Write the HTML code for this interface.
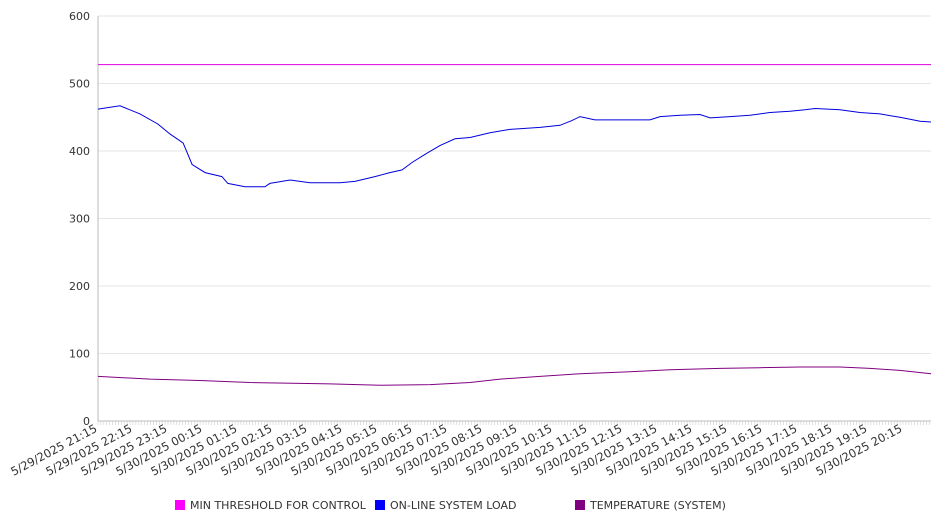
<!DOCTYPE html>
<html><head><meta charset="utf-8"><style>
body{margin:0;background:#fff;}
svg{font-family:"DejaVu Sans","Liberation Sans",sans-serif;}
</style></head><body>
<svg id="c" width="946" height="526"></svg>
<script>
const yTicks=[0,100,200,300,400,500,600];
const xLabels=["5/29/2025 21:15","5/29/2025 22:15","5/29/2025 23:15","5/30/2025 00:15","5/30/2025 01:15","5/30/2025 02:15","5/30/2025 03:15","5/30/2025 04:15","5/30/2025 05:15","5/30/2025 06:15","5/30/2025 07:15","5/30/2025 08:15","5/30/2025 09:15","5/30/2025 10:15","5/30/2025 11:15","5/30/2025 12:15","5/30/2025 13:15","5/30/2025 14:15","5/30/2025 15:15","5/30/2025 16:15","5/30/2025 17:15","5/30/2025 18:15","5/30/2025 19:15","5/30/2025 20:15"];
const thresholdHours=[0,23.8];
const thresholdValues=[528,528];
const loadHours=[0,0.63,1.2,1.71,2.06,2.43,2.69,3.06,3.54,3.71,4.2,4.77,4.91,5.49,6.06,6.91,7.34,7.91,8.34,8.69,8.97,9.34,9.77,10.2,10.63,11.2,11.77,12.63,13.2,13.54,13.77,14.2,14.91,15.77,16.06,16.63,17.2,17.49,18.06,18.63,19.2,19.77,20.2,20.49,21.2,21.77,22.34,22.91,23.49,23.8];
const loadValues=[462,467,455,440,425,412,380,368,362,352,347,347,352,357,353,353,355,362,368,372,383,395,408,418,420,427,432,435,438,445,451,446,446,446,451,453,454,449,451,453,457,459,461,463,461,457,455,450,444,443];
const tempHours=[0,1.49,2.91,4.34,6.63,8.06,9.49,10.63,11.49,12.63,13.77,15.2,16.34,17.77,18.91,20.06,21.2,22.06,22.91,23.8];
const tempValues=[66,62,60,57,55,53,54,57,62,66,70,73,76,78,79,80,80,78,75,70];
const X0=98,X1=931,Y0=421,PX_H=35,PX_V=0.675;
const xs=h=>X0+h*PX_H, ys=v=>Y0-v*PX_V;
const svg=document.getElementById('c');const NS="http://www.w3.org/2000/svg";
function mk(t,a,p){const e=document.createElementNS(NS,t);for(const k in a)e.setAttribute(k,a[k]);(p||svg).appendChild(e);return e;}
yTicks.forEach(v=>{
 const g=mk('line',{x1:X0,x2:X1,y1:ys(v),y2:ys(v),stroke:v?'#e6e6e6':'#bbb','stroke-width':1});
 
 const t=mk('text',{x:90,y:ys(v)+4,'text-anchor':'end','font-size':11,fill:'#333'});t.textContent=v;
 
});
const ax=mk('line',{x1:X0,x2:X0,y1:16,y2:Y0,stroke:'#bbb'});

for(let x=X0;x<=X1;x+=PX_H/12){const tk=mk('line',{x1:x,x2:x,y1:Y0,y2:Y0+4,stroke:'#ccc','stroke-width':0.6});
 }
xLabels.forEach((l,i)=>{const x=xs(i);
 const t=mk('text',{x:x,y:431,'text-anchor':'end','font-size':11.5,fill:'#333',transform:`rotate(-28 ${x} 431)`});t.textContent=l;
 });
function line(hs,vs,c,n){const d=hs.map((h,i)=>(i?'L':'M')+xs(h).toFixed(1)+' '+ys(vs[i]).toFixed(1)).join(' ');
 const p=mk('path',{d:d,fill:'none',stroke:c,'stroke-width':1});
 }
line(thresholdHours,thresholdValues,'#e000e0','threshold-line');
line(loadHours,loadValues,'#0000dd','load-line');
line(tempHours,tempValues,'#800080','temperature-line');
[['MIN THRESHOLD FOR CONTROL','#ff00ff',175],['ON-LINE SYSTEM LOAD','#0000ff',375],['TEMPERATURE (SYSTEM)','#800080',575]].forEach(([l,c,x])=>{
 const g=mk('g',{});
 mk('rect',{x:x,y:500,width:10,height:10,fill:c},g);
 const t=mk('text',{x:x+15,y:509,'font-size':11,fill:'#333'},g);t.textContent=l;});
</script>
</body></html>
